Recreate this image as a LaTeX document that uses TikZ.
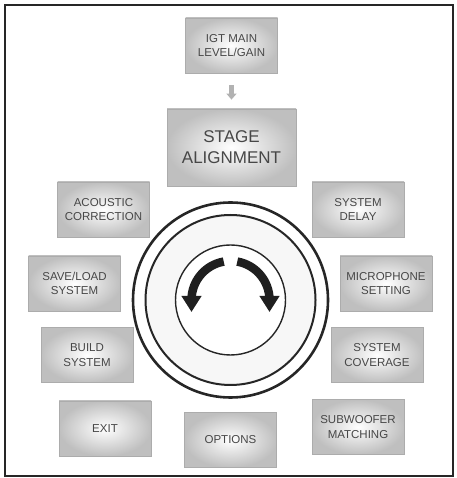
\documentclass[tikz,border=0pt]{standalone}
\usepackage{fontspec}
\setmainfont{Liberation Sans}
\usetikzlibrary{arrows.meta,calc}
\tikzset{
  menubox/.style={draw=gray!65, line width=0.8pt, shading=radial, inner color=white, outer color=gray!50,
    minimum width=92pt, minimum height=55pt, align=center, inner sep=0pt,
    font=\fontsize{11.5}{14.5}\selectfont, text=black!72},
  bigbox/.style={menubox, minimum width=129pt, minimum height=77pt, font=\fontsize{17}{21}\selectfont},
  ring/.style={circle, draw=black!85, inner sep=0pt},
  turn/.style={line width=8.5pt, black!88, -{Triangle[width=19pt,length=16pt]}},
  flowarrow/.style={line width=4.5pt, gray!60, -{Triangle[width=10pt,length=6pt]}}
}
\begin{document}
\begin{tikzpicture}[x=1pt,y=1pt]
\useasboundingbox (0,0) rectangle (456,478);
\draw[line width=2pt, black!85] (5,2) rectangle (453,473);
% boxes (y' = 478 - y)
\node[menubox] (igt) at (231.5,432.5) {IGT MAIN\\LEVEL/GAIN};
\node[bigbox] (stage) at (231.5,330.5) {STAGE\\ALIGNMENT};
\node[menubox] (acou) at (103.5,268.5) {ACOUSTIC\\CORRECTION};
\node[menubox] (delay) at (358,268.5) {SYSTEM\\DELAY};
\node[menubox] (save) at (74.5,194.5) {SAVE/LOAD\\SYSTEM};
\node[menubox] (mic) at (386,194.5) {MICROPHONE\\SETTING};
\node[menubox] (build) at (87,123) {BUILD\\SYSTEM};
\node[menubox] (cover) at (377,123) {SYSTEM\\COVERAGE};
\node[menubox] (exit) at (105,49.5) {EXIT};
\node[menubox] (opt) at (230.5,38) {OPTIONS};
\node[menubox] (sub) at (358,51) {SUBWOOFER\\MATCHING};
\draw[flowarrow, shorten <=12pt, shorten >=9pt] (igt.south) -- (stage.north);
% dial
\coordinate (c) at (230.5,178);
\node[ring, line width=2.6pt, minimum size=195pt] (dialout) at (c) {};
\node[ring, line width=2pt, minimum size=170pt, fill=gray!6] (dialmid) at (c) {};
\node[ring, line width=1.4pt, minimum size=110pt, fill=white] (dialin) at (c) {};
\draw[turn] ($(c)+(100:39)$) arc[start angle=100, end angle=180, radius=39] -- ++(0,-12);
\draw[turn] ($(c)+(80:39)$) arc[start angle=80, end angle=0, radius=39] -- ++(0,-12);
\end{tikzpicture}
\end{document}
